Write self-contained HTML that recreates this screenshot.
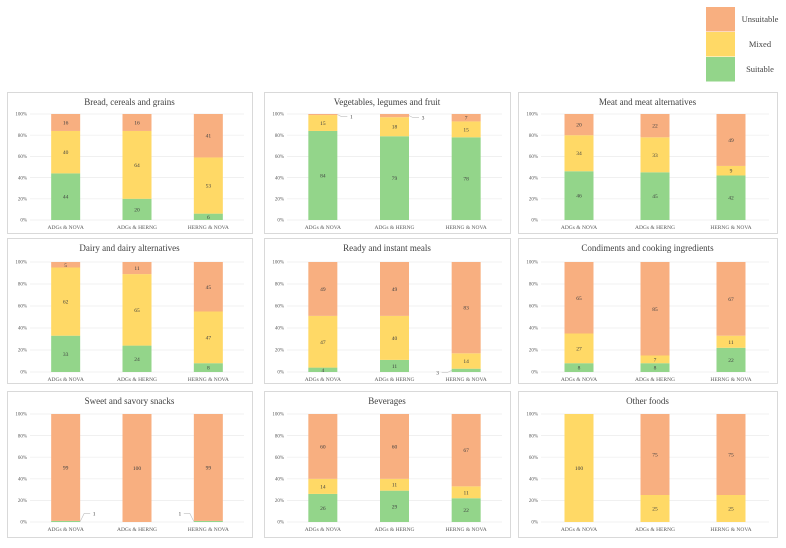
<!DOCTYPE html>
<html><head><meta charset="utf-8">
<style>
body{margin:0;background:#fff;width:786px;height:548px;overflow:hidden;font-family:"Liberation Serif",serif;}
svg{display:block}
</style></head>
<body>
<svg id="chart" width="786" height="548"></svg>
<script>
const titles = ["Bread, cereals and grains","Vegetables, legumes and fruit","Meat and meat alternatives","Dairy and dairy alternatives","Ready and instant meals","Condiments and cooking ingredients","Sweet and savory snacks","Beverages","Other foods"];
const categories = ["ADGs & NOVA","ADGs & HERNG","HERNG & NOVA"];
const suitable = [[44,20,6],[84,79,78],[46,45,42],[33,24,8],[4,11,3],[8,8,22],[1,0,1],[26,29,22],[0,0,0]];
const mixed = [[40,64,53],[15,18,15],[34,33,9],[62,65,47],[47,40,14],[27,7,11],[0,0,0],[14,11,11],[100,25,25]];
const unsuitable = [[16,16,41],[1,3,7],[20,22,49],[5,11,45],[49,49,83],[65,85,67],[99,100,99],[60,60,67],[0,75,75]];
const yTicks = [0,20,40,60,80,100];
const seriesNames = ["Suitable","Mixed","Unsuitable"];
const colors = ["#93d58a","#ffd966","#f8af80"];

const NS="http://www.w3.org/2000/svg";
const svg=document.getElementById('chart');
function mk(tag,attrs,parent){const e=document.createElementNS(NS,tag);for(const k in attrs)e.setAttribute(k,attrs[k]);(parent||svg).appendChild(e);return e;}

// legend
const legOrder=[2,1,0];
legOrder.forEach((s,i)=>{
  const g=mk('g',{});
  
  
  mk('rect',{x:706,y:7+i*25,width:29,height:24.5,fill:colors[s]},g);
  const t=mk('text',{x:760,y:22+i*25,'font-size':8.5,fill:'#444','text-anchor':'middle'},g);
  t.textContent=seriesNames[s];
});

const colX=[[7,252],[264,510],[518,777]];
const rowY=[[92,233,114,220],[238,383,262,372],[391,537,414,522]];
const sets=[suitable,mixed,unsuitable];

titles.forEach((title,p)=>{
  const c=p%3,r=Math.floor(p/3);
  const [fx0,fx1]=colX[c];const [fy0,fy1,y100,y0]=rowY[r];
  const g=mk('g',{});
  
  
  mk('rect',{x:fx0+.5,y:fy0+.5,width:fx1-fx0,height:fy1-fy0,fill:'#fff',stroke:'#d9d9d9'},g);
  const tt=mk('text',{x:(fx0+fx1)/2,y:fy0+13,'font-size':9,fill:'#404040','text-anchor':'middle'},g);
  
  
  tt.textContent=title;
  const px0=fx0+23,px1=fx1-8;
  const yS=v=>y0-(y0-y100)*v/100;
  yTicks.forEach(t=>{
    mk('line',{x1:px0,x2:px1,y1:yS(t),y2:yS(t),stroke:'#ececec','stroke-width':0.7},g);
    const lt=mk('text',{x:px0-3,y:yS(t)+1.7,'font-size':5,fill:'#595959','text-anchor':'end'},g);
    lt.textContent=t+'%';
  });
  const band=(px1-px0)/3;const bw=29;
  categories.forEach((cat,i)=>{
    const cx=px0+band*(i+.5);
    const xl=mk('text',{x:cx,y:y0+9,'font-size':5.5,fill:'#595959','text-anchor':'middle'},g);
    xl.textContent=cat;
    let acc=0;
    sets.forEach((set,s)=>{
      const v=set[p][i];
      if(v<=0)return;
      const yt=yS(acc+v),yb=yS(acc);
      const rc=mk('rect',{x:cx-bw/2,y:yt,width:bw,height:yb-yt,fill:colors[s]},g);
      
      
      if(v>=4){
        const lt=mk('text',{x:cx,y:(yt+yb)/2+2,'font-size':5.5,fill:'#404040','text-anchor':'middle'},g);
        lt.textContent=v;
      }else{
        const my=(yt+yb)/2;
        const left=(p===4||(p===6&&i===2));
        const dir=left?-1:1;
        const lx=cx+dir*(bw/2+14);
        const ly=(p===6)?my-8:my+2;
        mk('polyline',{points:`${cx+dir*bw/2},${my} ${cx+dir*(bw/2+4)},${ly} ${lx-dir*4},${ly}`,fill:'none',stroke:'#bfbfbf','stroke-width':0.6},g);
        const lt=mk('text',{x:lx,y:ly+2,'font-size':5.5,fill:'#404040','text-anchor':'middle'},g);
        lt.textContent=v;
      }
      acc+=v;
    });
  });
});
</script>
</body></html>
